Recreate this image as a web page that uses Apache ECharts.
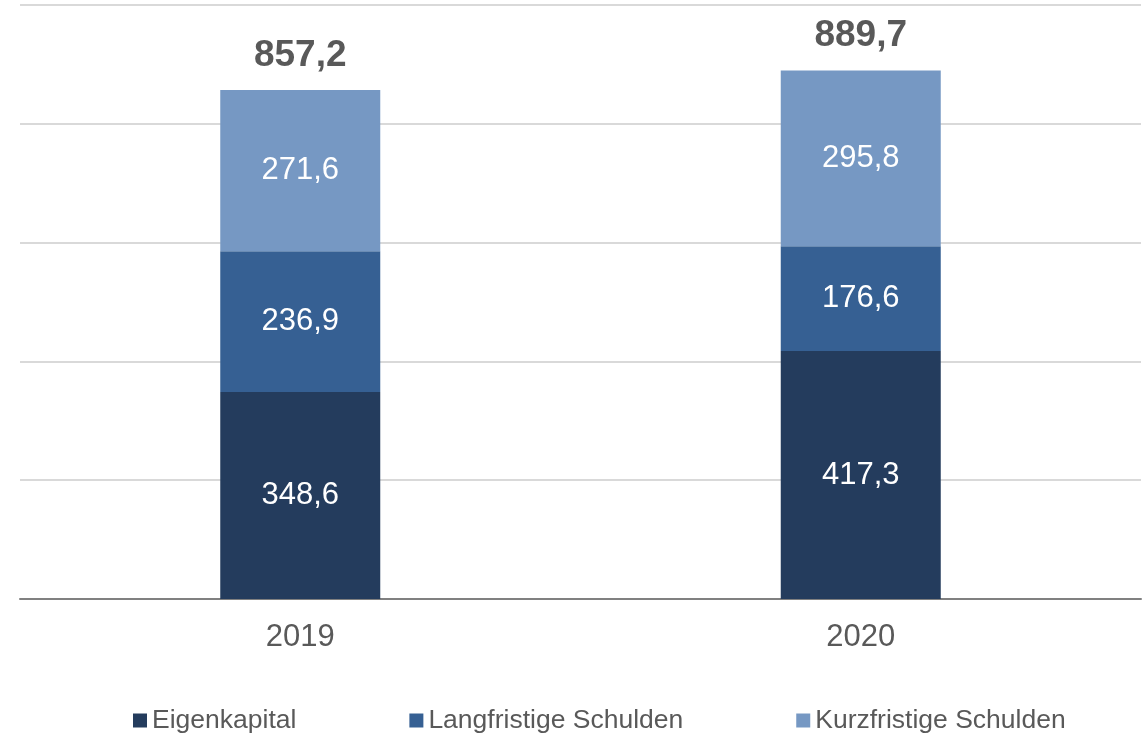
<!DOCTYPE html>
<html>
<head>
<meta charset="utf-8">
<script src="https://cdn.jsdelivr.net/npm/echarts@6/dist/echarts.min.js"></script>
<style>
  html, body { margin: 0; padding: 0; background: #fff; }
  #chart { width: 1148px; height: 735px; }
</style>
</head>
<body>
<div id="chart"></div>
<script>
  var years = ['2019', '2020'];
  var eigenkapital = [348.6, 417.3];
  var langfristig = [236.9, 176.6];
  var kurzfristig = [271.6, 295.8];
  var totals = [857.2, 889.7];
  var colors = ['#243c5d', '#366093', '#7698c3'];

  function fmt(v) {
    return v.toFixed(1).replace('.', ',');
  }

  var myChart = echarts.init(document.getElementById('chart'));

  var innerLabel = {
    show: true,
    position: 'inside',
    color: '#fff',
    fontSize: 31,
    fontFamily: 'Liberation Sans, Arial, sans-serif',
    formatter: function(p) { return fmt(p.value); }
  };

  var option = {
    animation: false,
    color: colors,
    grid: {
      left: 20,
      right: 7,
      top: 5,
      bottom: 136
    },
    legend: {
      data: ['Eigenkapital', 'Langfristige Schulden', 'Kurzfristige Schulden'],
      bottom: -4,
      left: 128,
      itemWidth: 14,
      itemHeight: 14,
      itemGap: 113,
      icon: 'rect',
      textStyle: {
        color: '#595959',
        fontSize: 26.5,
        fontFamily: 'Liberation Sans, Arial, sans-serif'
      }
    },
    xAxis: {
      type: 'category',
      data: years,
      axisTick: { show: false },
      axisLine: { lineStyle: { color: '#808080', width: 2 } },
      axisLabel: {
        color: '#595959',
        fontSize: 31,
        margin: 23,
        fontFamily: 'Liberation Sans, Arial, sans-serif'
      }
    },
    yAxis: {
      type: 'value',
      min: 0,
      max: 1000,
      interval: 200,
      axisLabel: { show: false },
      axisLine: { show: false },
      axisTick: { show: false },
      splitLine: { lineStyle: { color: '#d9d9d9', width: 2 } }
    },
    series: [{
      name: 'Eigenkapital',
      type: 'bar',
      stack: 'total',
      barWidth: 160,
      data: eigenkapital,
      label: innerLabel
    }, {
      name: 'Langfristige Schulden',
      type: 'bar',
      stack: 'total',
      data: langfristig,
      label: innerLabel
    }, {
      name: 'Kurzfristige Schulden',
      type: 'bar',
      stack: 'total',
      data: kurzfristig,
      label: innerLabel
    }, {
      name: 'Summe',
      type: 'bar',
      stack: 'total',
      data: [0, 0],
      itemStyle: { color: 'transparent' },
      label: {
        show: true,
        position: 'top',
        distance: 16,
        color: '#595959',
        fontSize: 37,
        fontWeight: 'bold',
        fontFamily: 'Liberation Sans, Arial, sans-serif',
        formatter: function(p) { return fmt(totals[p.dataIndex]); }
      }
    }]
  };
  myChart.setOption(option);
</script>
</body>
</html>
